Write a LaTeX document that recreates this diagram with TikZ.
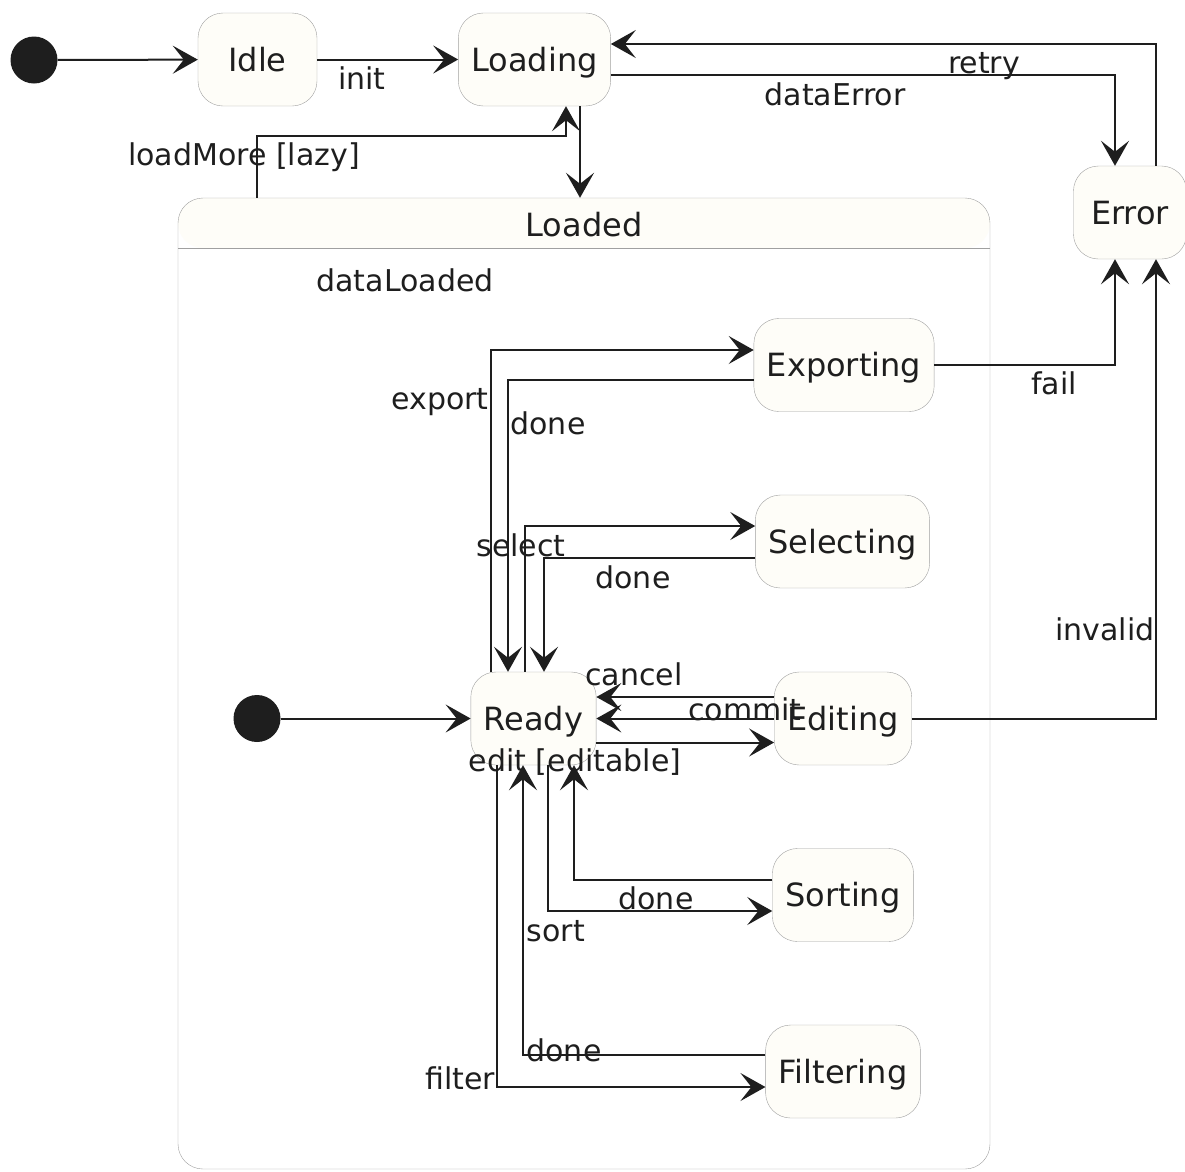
\documentclass[tikz,border=0pt]{standalone}
\usepackage{fontspec}
\setmainfont{DejaVu Sans}
\usetikzlibrary{arrows.meta, positioning}
\definecolor{stfill}{RGB}{254,253,248}
\definecolor{stline}{RGB}{160,160,160}
\definecolor{ink}{RGB}{30,30,30}

\begin{document}
\begin{tikzpicture}[x=1pt, y=-1pt,
  >={Stealth[length=25pt, width=28pt, inset=11pt]},
  stbox/.style={draw=stline, fill=stfill, rounded corners=25pt, minimum height=93pt,
    minimum width=113pt, inner xsep=13pt, text height=23.4pt, text depth=0pt,
    font=\fontsize{32}{38}\selectfont, text=ink},
  cluster/.style={draw=stline, fill=white, rounded corners=25pt, inner sep=0pt,
    path picture={
      \fill[stfill] (path picture bounding box.north west)
        rectangle ([yshift=-50pt]path picture bounding box.north east);
      \draw[stline] ([yshift=-50pt]path picture bounding box.north west)
        -- ([yshift=-50pt]path picture bounding box.north east);}},
  initdot/.style={circle, fill=ink, minimum size=47pt, inner sep=0pt},
  trans/.style={->, draw=ink, line width=2pt},
  lbl/.style={font=\fontsize{30}{36}\selectfont, text=ink, inner sep=0pt, anchor=base}]
  \useasboundingbox (0,0) rectangle (1185,1171);
  % Nodes
  \node[cluster, minimum width=812pt, minimum height=971pt] (Loaded) at (584,683.5) {};
  \node[lbl, font=\fontsize{32}{38}\selectfont] (LoadedTitle) at (584,236) {Loaded};
  \node[initdot] (init) at (34,60) {};
  \node[stbox, minimum width=119pt] (Idle) at (257.5,59.5) {Idle};
  \node[stbox] (Loading) at (534.5,59.5) {Loading};
  \node[stbox] (Error) at (1130,212.5) {Error};
  \node[stbox] (Exporting) at (844,365) {Exporting};
  \node[stbox] (Selecting) at (842.5,541.5) {Selecting};
  \node[initdot] (iinit) at (257,718.5) {};
  \node[stbox] (Ready) at (533.5,718.5) {Ready};
  \node[stbox] (Editing) at (843,718.5) {Editing};
  \node[stbox] (Sorting) at (843,895) {Sorting};
  \node[stbox] (Filtering) at (843,1071.5) {Filtering};
  % Edges
  \draw[trans] (init) -- (Idle);
  \draw[trans] (Idle) -- (Loading);
  \draw[trans] ([xshift=45.5pt]Loading.south) -- ([xshift=45.5pt]Loading.south |- Loaded.north);
  \draw[trans] ([xshift=79pt]Loaded.north west) -- ++(0,-62) -| ([xshift=31.5pt]Loading.south);
  \draw[trans] ([yshift=-15.5pt]Loading.east) -| ([xshift=-15pt]Error.north);
  \draw[trans] ([xshift=26pt]Error.north) |- ([yshift=15.5pt]Loading.east);
  \draw[trans] (Exporting.east) -| ([xshift=-15pt]Error.south);
  \draw[trans] (Editing.east) -| ([xshift=26pt]Error.south);
  \draw[trans] (iinit) -- (Ready);
  \draw[trans] ([xshift=-42.5pt]Ready.north) |- ([yshift=15pt]Exporting.west);
  \draw[trans] ([yshift=-15pt]Exporting.west) -| ([xshift=-25.5pt]Ready.north);
  \draw[trans] ([xshift=-8.5pt]Ready.north) |- ([yshift=15.5pt]Selecting.west);
  \draw[trans] ([yshift=-16.5pt]Selecting.west) -| ([xshift=10.5pt]Ready.north);
  \draw[trans] ([yshift=21.5pt]Editing.west) -- ([yshift=21.5pt]Ready.east);
  \draw[trans] (Editing.west) -- (Ready.east);
  \draw[trans] ([yshift=-24pt]Ready.east) -- ([yshift=-24pt]Editing.west);
  \draw[trans] ([xshift=14.5pt]Ready.south) |- ([yshift=-16pt]Sorting.west);
  \draw[trans] ([yshift=15pt]Sorting.west) -| ([xshift=40.5pt]Ready.south);
  \draw[trans] ([xshift=-36.5pt]Ready.south) |- ([yshift=-15.5pt]Filtering.west);
  \draw[trans] ([yshift=16.5pt]Filtering.west) -| ([xshift=-10.5pt]Ready.south);
  % Labels
  \node[lbl] (tInit) at (362,89) {init};
  \node[lbl] (tLoadMore) at (244,165) {loadMore [lazy]};
  \node[lbl] (tDataError) at (835,105) {dataError};
  \node[lbl] (tRetry) at (984,73) {retry};
  \node[lbl] (tDataLoaded) at (405,291) {dataLoaded};
  \node[lbl] (tExport) at (440,409) {export};
  \node[lbl] (tDoneExp) at (548,434) {done};
  \node[lbl] (tFail) at (1054,394) {fail};
  \node[lbl] (tSelect) at (521,556) {select};
  \node[lbl] (tDoneSel) at (633,588) {done};
  \node[lbl] (tInvalid) at (1105,640) {invalid};
  \node[lbl] (tCancel) at (634,685) {cancel};
  \node[lbl] (tCommit) at (745,720) {commit};
  \node[lbl] (tEdit) at (575,771) {edit [editable]};
  \node[lbl] (tDoneSort) at (656,909) {done};
  \node[lbl] (tSort) at (556,941) {sort};
  \node[lbl] (tDoneFilt) at (564,1061) {done};
  \node[lbl] (tFilter) at (460,1089) {filter};
\end{tikzpicture}
\end{document}
